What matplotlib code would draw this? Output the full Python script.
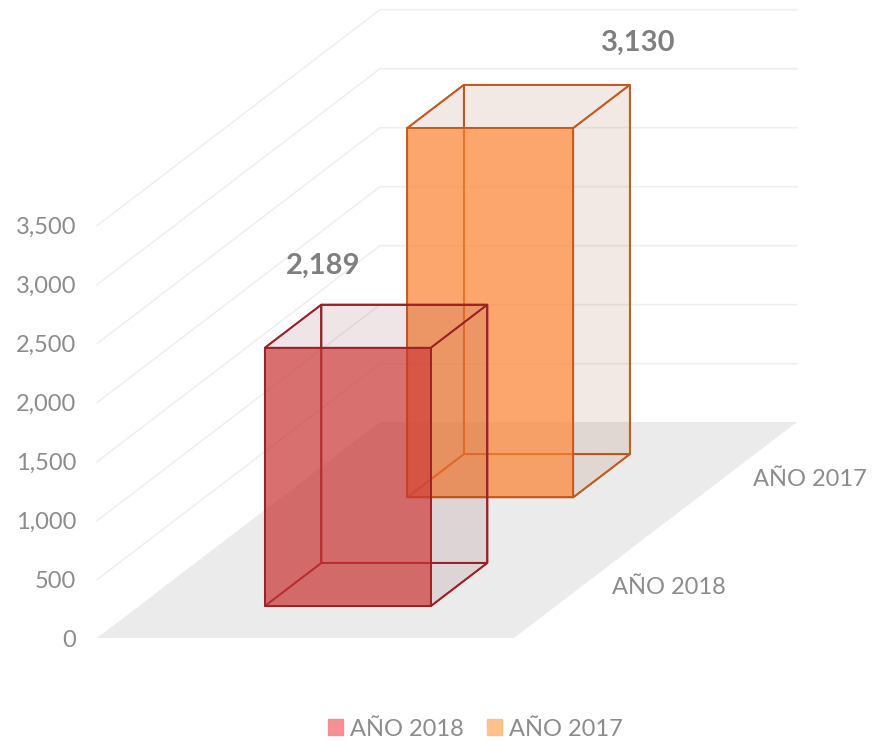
import matplotlib
matplotlib.use('Agg')
import matplotlib.pyplot as plt
from matplotlib.colors import to_rgba
from matplotlib.patches import Patch, Polygon

categories = ['AÑO 2018', 'AÑO 2017']
values = [2189, 3130]
value_labels = ['2,189', '3,130']
y_ticks = [0, 500, 1000, 1500, 2000, 2500, 3000, 3500]
y_tick_labels = ['0', '500', '1,000', '1,500', '2,000', '2,500', '3,000', '3,500']

face_colors = ['#C83434', '#FC8030']
side_colors = ['#701A2A', '#8A3A10']
edge_colors = ['#9B2226', '#C55A20']
legend_colors = ['#F58A8E', '#FFBF85']
TEXT = '#8C8C8C'

# oblique projection, all in pixels of the output picture
X0, Y0 = 97, 638
WIDTH = 417
DX, DY = 283, -216
Y_SCALE = 413 / 3500
BAR_X = 126 / WIDTH
BAR_W = 166 / WIDTH
BAR_D = 0.2


def proj(x, d, v):
    return (X0 + x * WIDTH + d * DX, Y0 + d * DY - v * Y_SCALE)


def face(ax, pts, **kw):
    ax.add_patch(Polygon([proj(*p) for p in pts], closed=True, **kw))


def box(ax, d0, val, i):
    x0, x1 = BAR_X, BAR_X + BAR_W
    d1 = d0 + BAR_D
    line = dict(edgecolor=edge_colors[i], linewidth=1.3)
    # hidden faces are only outlines, only top and right carry a tint
    face(ax, [(x0, d1, 0), (x1, d1, 0), (x1, d1, val), (x0, d1, val)], facecolor='none', **line)
    face(ax, [(x0, d0, 0), (x0, d1, 0), (x0, d1, val), (x0, d0, val)], facecolor='none', **line)
    face(ax, [(x0, d0, 0), (x1, d0, 0), (x1, d1, 0), (x0, d1, 0)], facecolor='none', **line)
    tint = to_rgba(side_colors[i], 0.11)
    face(ax, [(x1, d0, 0), (x1, d1, 0), (x1, d1, val), (x1, d0, val)], facecolor=tint, **line)
    face(ax, [(x0, d0, val), (x1, d0, val), (x1, d1, val), (x0, d1, val)], facecolor=tint, **line)
    face(ax, [(x0, d0, 0), (x1, d0, 0), (x1, d0, val), (x0, d0, val)],
         facecolor=to_rgba(face_colors[i], 0.7), **line)


plt.rcParams['font.family'] = ['Lato', 'DejaVu Sans']
fig = plt.figure(figsize=(8.73, 7.41), dpi=100)
ax = fig.add_axes([0, 0, 1, 1])
ax.set_xlim(0, 873)
ax.set_ylim(741, 0)
ax.axis('off')

# floor
face(ax, [(0, 0, 0), (1, 0, 0), (1, 1, 0), (0, 1, 0)], facecolor='#EBEBEB', edgecolor='none', zorder=0)

# gridlines on the two walls, and the value axis labels
for t, lab in zip(y_ticks, y_tick_labels):
    if t > 0:
        pts = [proj(0, 0, t), proj(0, 1, t), proj(1, 1, t)]
        ax.plot([p[0] for p in pts], [p[1] + 0.7 for p in pts], color='#EFEFEF', lw=1.2, zorder=0.5)
    x, y = proj(0, 0, t)
    ax.text(x - 21, y + 2.5, lab, ha='right', va='center', fontsize=17, color=TEXT)

# bars, the back one first; labels are placed off the centre of the top back edge
depths = [0.148, 0.651]
label_dx = [-81, 91]
label_dy = [-39, -42]
for i in [1, 0]:
    box(ax, depths[i], values[i], i)
    x, y = proj(BAR_X + BAR_W / 2, depths[i] + BAR_D, values[i])
    ax.text(x + label_dx[i], y + label_dy[i], value_labels[i],
            ha='center', va='center', fontsize=21, fontweight='bold', color='#7F7F7F')

# category labels, on the right of the floor
for lab, d in zip(categories, [0.25, 0.75]):
    x, y = proj(1, d, 0)
    ax.text(x + 27, y + 4, lab, ha='left', va='center', fontsize=17, color=TEXT)

handles = [Patch(facecolor=c, edgecolor=c, alpha=0.95) for c in legend_colors]
ax.legend(handles, categories, loc='center', bbox_to_anchor=(475.5 / 873, 1 - 729 / 741),
          ncol=2, frameon=False, fontsize=17, labelcolor=TEXT, handlelength=0.64, handleheight=0.64,
          handletextpad=0.3, columnspacing=1.0, borderpad=0)

fig.savefig('out.png', dpi=100)
